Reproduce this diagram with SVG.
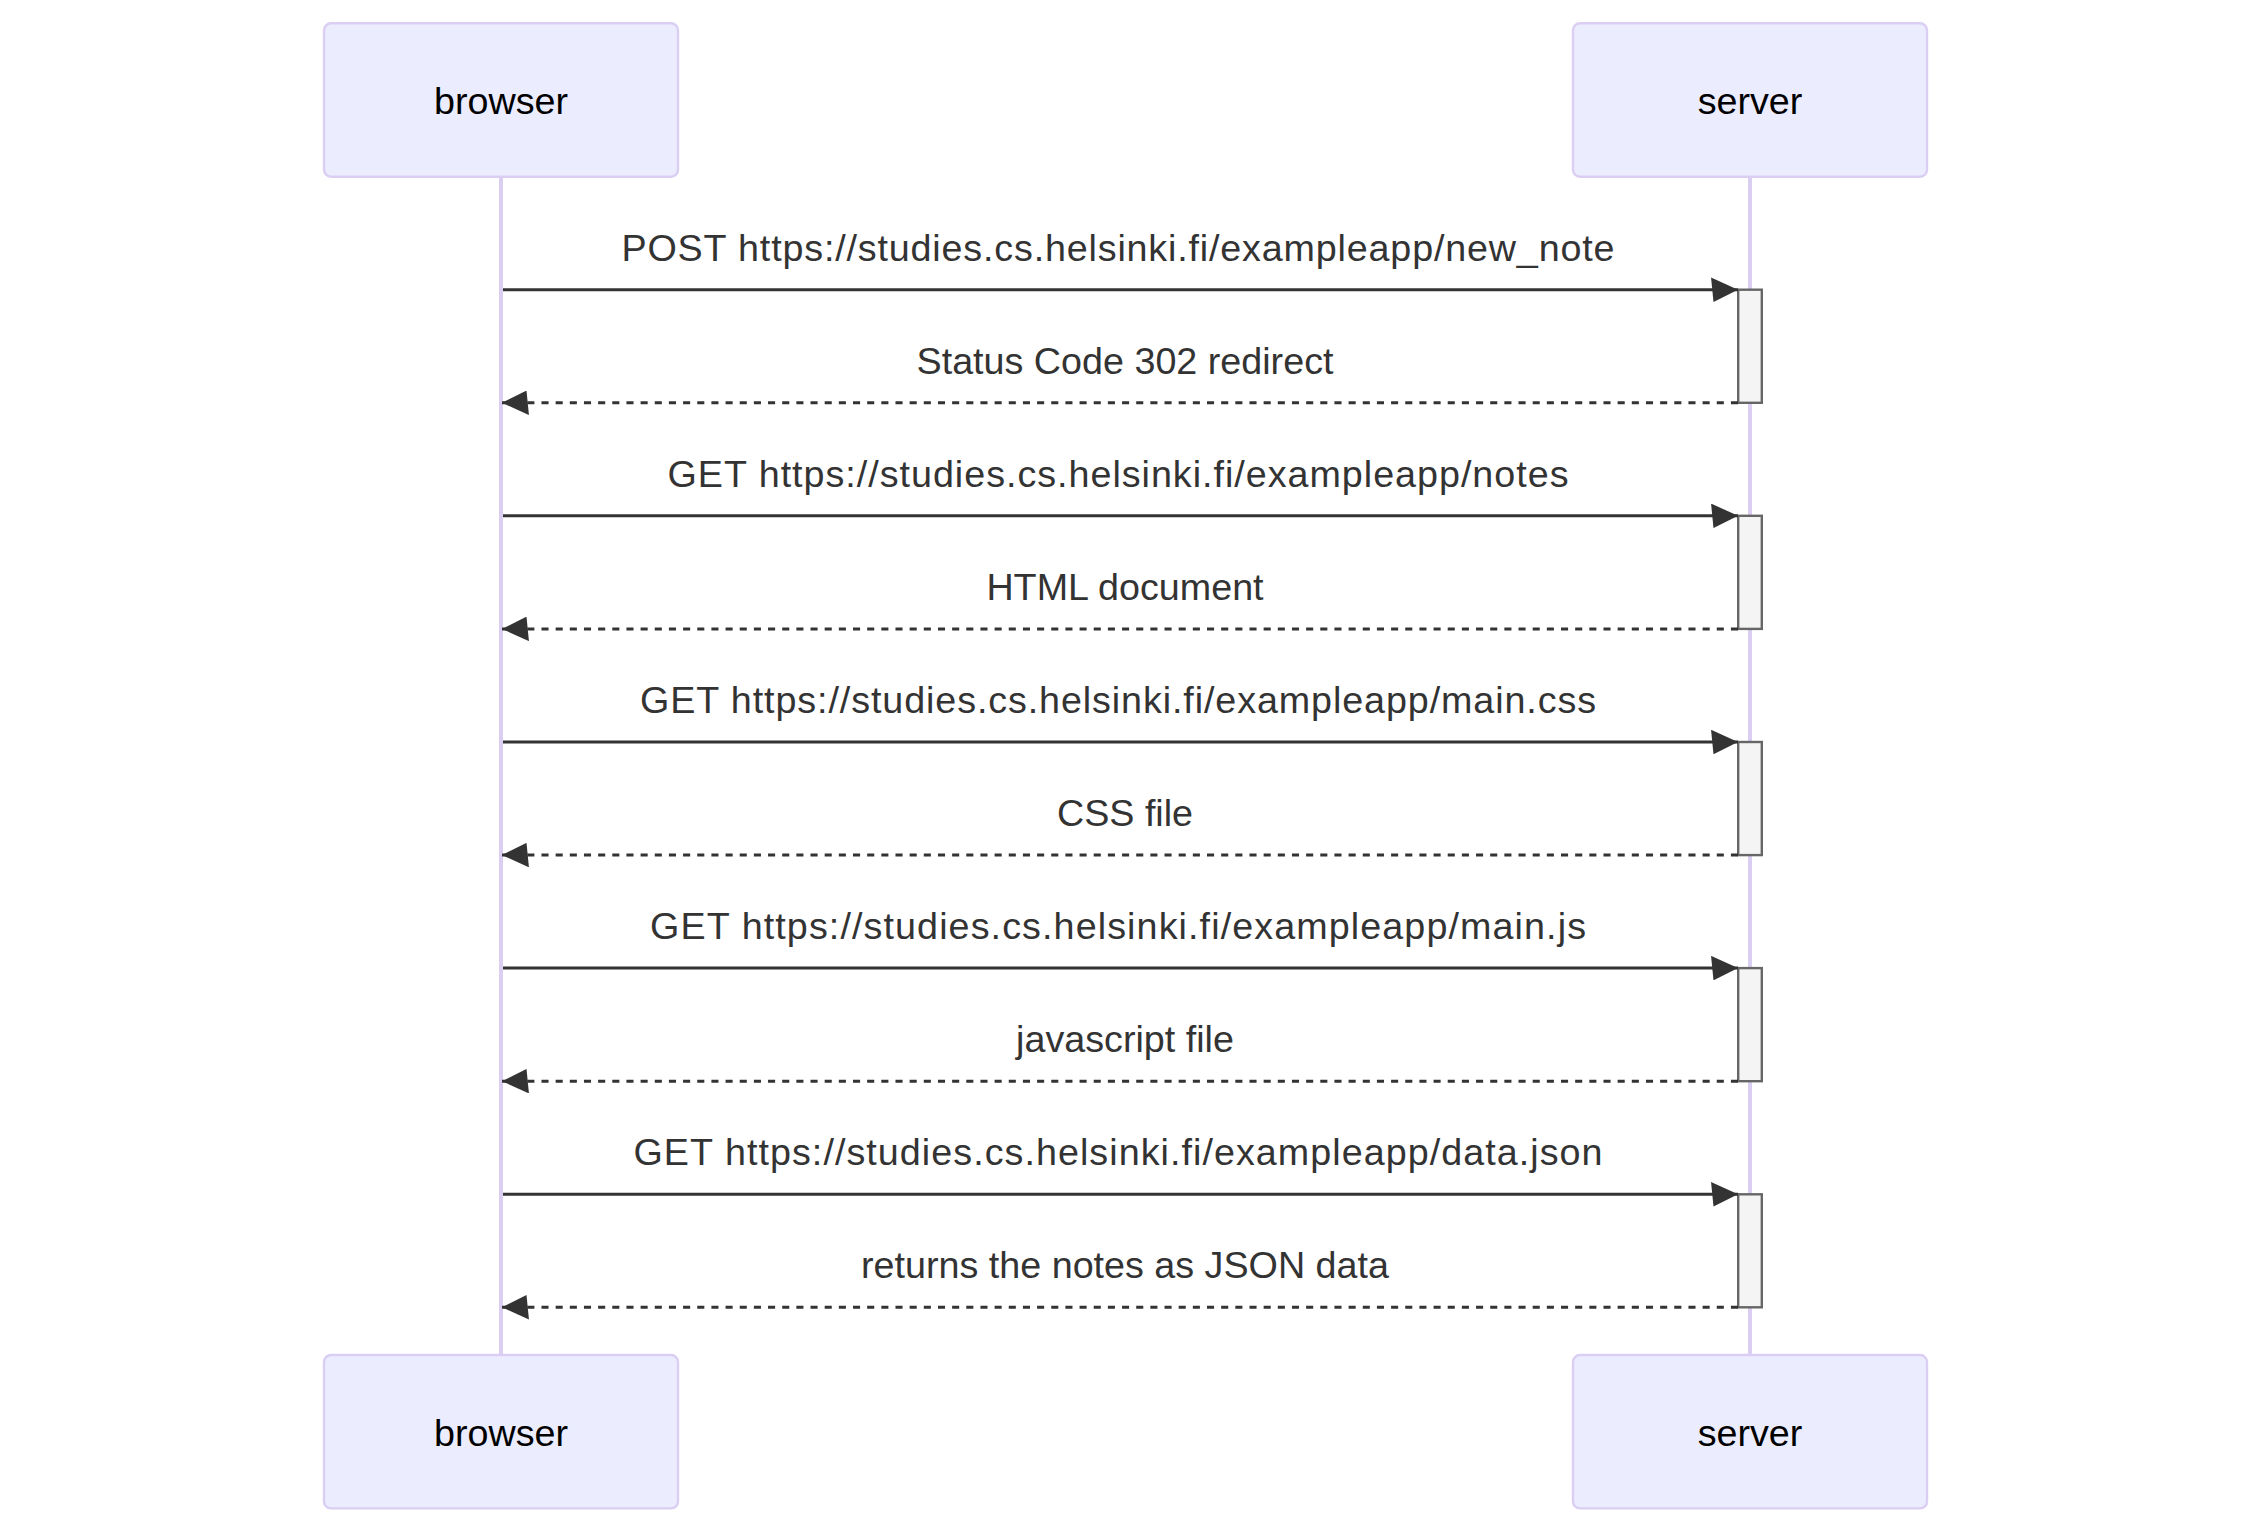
<svg xmlns="http://www.w3.org/2000/svg" width="2251" height="1534" viewBox="0 0 2251 1534">
<style>
.actor{fill:#ECECFF;stroke:#DACEF3;stroke-width:2.4}
.actor-text{font-family:"Liberation Sans",Arial,sans-serif;font-size:37.7px;fill:#000;text-anchor:middle}
.lifeline{stroke:#DACEF3;stroke-width:4}
.msg{stroke:#333;stroke-width:3;fill:none}
.dashed{stroke-dasharray:7.08,7.08}
.msg-text{font-family:"Liberation Sans",Arial,sans-serif;font-size:37.7px;fill:#333;text-anchor:middle}
.activation{fill:#F4F4F4;stroke:#666;stroke-width:2.4}
</style>
<defs>
<marker id="arrowhead" markerUnits="userSpaceOnUse" viewBox="-1 0 11 10" markerWidth="27" markerHeight="24.5" refX="10" refY="5" orient="auto">
<path d="M -1 0 L 10 5 L 0 10 z" fill="#333"/>
</marker>
</defs>
<rect width="2251" height="1534" fill="#fff"/>
<g id="lifelines">
<line class="lifeline" x1="501" y1="176.7" x2="501" y2="1355"/>
<line class="lifeline" x1="1750" y1="176.7" x2="1750" y2="1355"/>
</g>
<g id="actor-browser-top"><rect class="actor" x="324" y="23.3" width="354" height="153.4" rx="7" ry="7"/><text class="actor-text" x="501" y="114">browser</text></g>
<g id="actor-server-top"><rect class="actor" x="1573" y="23.3" width="354" height="153.4" rx="7" ry="7"/><text class="actor-text" x="1750" y="114">server</text></g>
<g id="actor-browser-bottom"><rect class="actor" x="324" y="1355" width="354" height="153.4" rx="7" ry="7"/><text class="actor-text" x="501" y="1446">browser</text></g>
<g id="actor-server-bottom"><rect class="actor" x="1573" y="1355" width="354" height="153.4" rx="7" ry="7"/><text class="actor-text" x="1750" y="1446">server</text></g>
<g id="activations">
<rect class="activation" x="1738.2" y="289.7" width="23.6" height="113.1"/>
<rect class="activation" x="1738.2" y="515.8" width="23.6" height="113.1"/>
<rect class="activation" x="1738.2" y="742" width="23.6" height="113.1"/>
<rect class="activation" x="1738.2" y="968.1" width="23.6" height="113.1"/>
<rect class="activation" x="1738.2" y="1194.3" width="23.6" height="113"/>
</g>
<g id="connectors">
<line class="msg" x1="503" y1="289.7" x2="1738" y2="289.7" marker-end="url(#arrowhead)"/>
<line class="msg dashed" x1="1738" y1="402.8" x2="502" y2="402.8" marker-end="url(#arrowhead)"/>
<line class="msg" x1="503" y1="515.8" x2="1738" y2="515.8" marker-end="url(#arrowhead)"/>
<line class="msg dashed" x1="1738" y1="628.9" x2="502" y2="628.9" marker-end="url(#arrowhead)"/>
<line class="msg" x1="503" y1="742" x2="1738" y2="742" marker-end="url(#arrowhead)"/>
<line class="msg dashed" x1="1738" y1="855.1" x2="502" y2="855.1" marker-end="url(#arrowhead)"/>
<line class="msg" x1="503" y1="968.1" x2="1738" y2="968.1" marker-end="url(#arrowhead)"/>
<line class="msg dashed" x1="1738" y1="1081.2" x2="502" y2="1081.2" marker-end="url(#arrowhead)"/>
<line class="msg" x1="503" y1="1194.3" x2="1738" y2="1194.3" marker-end="url(#arrowhead)"/>
<line class="msg dashed" x1="1738" y1="1307.3" x2="502" y2="1307.3" marker-end="url(#arrowhead)"/>
</g>
<g id="labels">
<text class="msg-text" x="1118" y="260.5" textLength="993" lengthAdjust="spacing">POST https://studies.cs.helsinki.fi/exampleapp/new_note</text>
<text class="msg-text" x="1125" y="373.6">Status Code 302 redirect</text>
<text class="msg-text" x="1118" y="486.6" textLength="901" lengthAdjust="spacing">GET https://studies.cs.helsinki.fi/exampleapp/notes</text>
<text class="msg-text" x="1125" y="599.7">HTML document</text>
<text class="msg-text" x="1118" y="712.8" textLength="956" lengthAdjust="spacing">GET https://studies.cs.helsinki.fi/exampleapp/main.css</text>
<text class="msg-text" x="1125" y="825.9">CSS file</text>
<text class="msg-text" x="1118" y="938.9" textLength="936" lengthAdjust="spacing">GET https://studies.cs.helsinki.fi/exampleapp/main.js</text>
<text class="msg-text" x="1125" y="1052">javascript file</text>
<text class="msg-text" x="1118" y="1165.1" textLength="969" lengthAdjust="spacing">GET https://studies.cs.helsinki.fi/exampleapp/data.json</text>
<text class="msg-text" x="1125" y="1278.1">returns the notes as JSON data</text>
</g>
</svg>
